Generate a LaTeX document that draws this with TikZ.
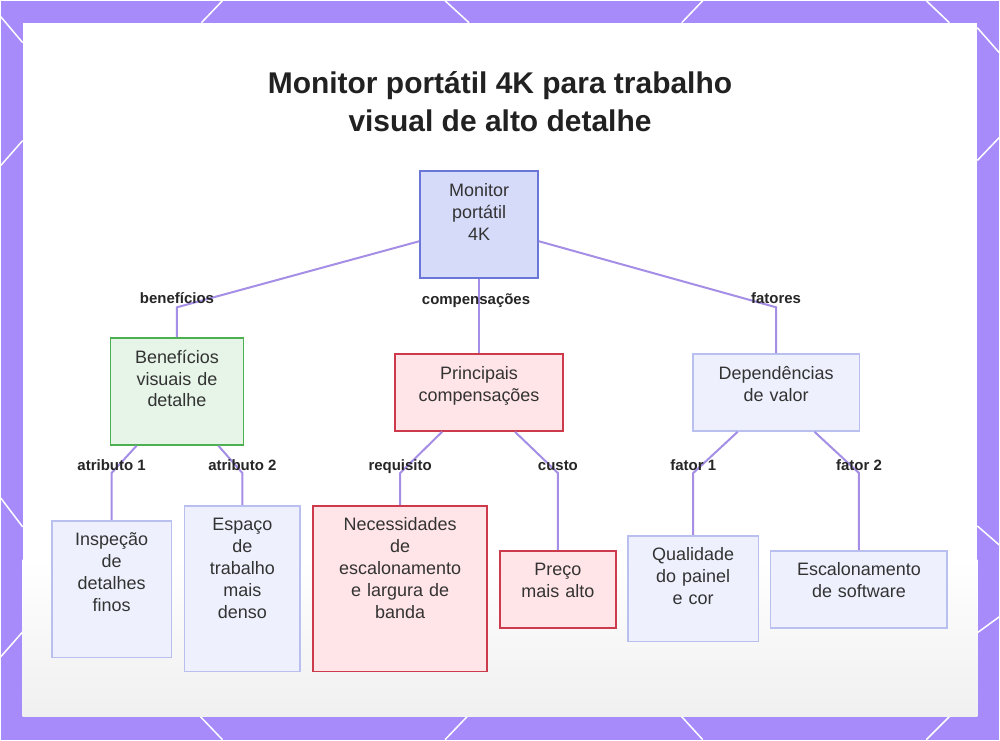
\documentclass[tikz,border=0pt]{standalone}
\usepackage{fontspec}
\setmainfont{Liberation Sans}
\usepackage{xcolor}
\usetikzlibrary{arrows.meta,positioning,calc}
\definecolor{bgpurple}{HTML}{A78BFA}
\definecolor{edgepurple}{HTML}{A58EE6}
\definecolor{rootfill}{HTML}{D6DBFA}
\definecolor{rootdraw}{HTML}{6B77D8}
\definecolor{goodfill}{HTML}{E6F5E7}
\definecolor{gooddraw}{HTML}{4CAF50}
\definecolor{costfill}{HTML}{FFE4E8}
\definecolor{costdraw}{HTML}{CC3A4C}
\definecolor{valfill}{HTML}{EEF1FD}
\definecolor{valdraw}{HTML}{B9C0F0}
\definecolor{inktext}{HTML}{333333}

\begin{document}
\begin{tikzpicture}[
  x=1pt, y=-1pt,
  font=\fontsize{18}{22}\selectfont,
  box/.style={draw, line width=1.7pt, anchor=north, align=center, inner xsep=4pt, inner ysep=12pt, text height=13pt, text=inktext},
  sz/.style 2 args={text width=#1, text depth=#2},
  rootbox/.style={box, fill=rootfill, draw=rootdraw},
  goodbox/.style={box, fill=goodfill, draw=gooddraw},
  costbox/.style={box, fill=costfill, draw=costdraw},
  valbox/.style={box, fill=valfill, draw=valdraw},
  link/.style={draw=edgepurple, line width=2pt},
  lbl/.style={font=\fontsize{15}{17}\selectfont\bfseries, text=black!85, inner sep=1pt, text height=11pt, text depth=3pt},
  title/.style={font=\fontsize{30}{38}\selectfont\bfseries, text=black!87, align=center},
]
% frame
\fill[bgpurple] (0,0) rectangle (1000,740);
\foreach \xa/\ya/\xb/\yb in {222/0/201/22, 445/0/469/22, 703/0/682/22, 927/0/950/22,
    200/717/222/740, 467/717/445/740, 682/717/703/740, 950/717/927/740,
    0/16/22/42, 22/140/0/165, 0/498/22/527, 22/632/0/657,
    978/27/1000/52, 978/160/1000/137, 978/526/1000/545, 978/633/1000/617}
  \draw[white, line width=1.5pt] (\xa,\ya) -- (\xb,\yb);
\fill[white] (22,22) rectangle (978,717);
\shade[top color=white, bottom color=black!6] (22,560) rectangle (978,717);
\useasboundingbox (0,0) rectangle (1000,740);

\node[title, anchor=base] (title) at (500,131) {Monitor portátil 4K para trabalho\\visual de alto detalhe};

\node[rootbox, sz={110pt}{70pt}] (root) at (479,170) {Monitor\\portátil\\4K};
\node[goodbox, sz={125pt}{70pt}] (benef) at (176.5,337) {Benefícios\\visuais de\\detalhe};
\node[costbox, sz={160pt}{40pt}] (comp) at (479,353) {Principais\\compensações};
\node[valbox, sz={159pt}{40pt}] (dep) at (776.5,353) {Dependências\\de valor};

\node[valbox, sz={112pt}{100pt}] (insp) at (111,520) {Inspeção\\de\\detalhes\\finos};
\node[valbox, sz={108pt}{129pt}] (esp) at (242,505) {Espaço\\de\\trabalho\\mais\\denso};
\node[costbox, sz={166pt}{129pt}] (nec) at (400,505) {Necessidades\\de\\escalonamento\\e largura de\\banda};
\node[costbox, sz={108pt}{40pt}] (preco) at (558,550) {Preço\\mais alto};
\node[valbox, sz={123pt}{69pt}] (qual) at (693.5,535) {Qualidade\\do painel\\e cor};
\node[valbox, sz={169pt}{40pt}] (esc) at (859.5,550) {Escalonamento\\de software};

\draw[link] (benef.north) -- ++(0,-30) node[lbl, yshift=8pt]{benefícios} -- ([yshift=-16.5pt]root.west);
\draw[link] (root.south) -- node[lbl, pos=0.29, xshift=-3pt]{compensações} (comp.north);
\draw[link] (dep.north) -- ++(0,-46) node[lbl, yshift=8pt]{fatores} -- ([yshift=-16.5pt]root.east);

\draw[link] (insp.north) -- ++(0,-47) node[lbl, yshift=7pt]{atributo 1} -- ([xshift=-40.5pt]benef.south);
\draw[link] (esp.north) -- ++(0,-32) node[lbl, yshift=7pt]{atributo 2} -- ([xshift=41.5pt]benef.south);
\draw[link] (nec.north) -- ++(0,-32) node[lbl, yshift=7pt]{requisito} -- ([xshift=-37pt]comp.south);
\draw[link] (preco.north) -- ++(0,-77) node[lbl, yshift=7pt]{custo} -- ([xshift=36pt]comp.south);
\draw[link] (qual.north) -- ++(0,-62) node[lbl, yshift=7pt]{fator 1} -- ([xshift=-38.5pt]dep.south);
\draw[link] (esc.north) -- ++(0,-77) node[lbl, yshift=7pt]{fator 2} -- ([xshift=38.5pt]dep.south);
\end{tikzpicture}
\end{document}
